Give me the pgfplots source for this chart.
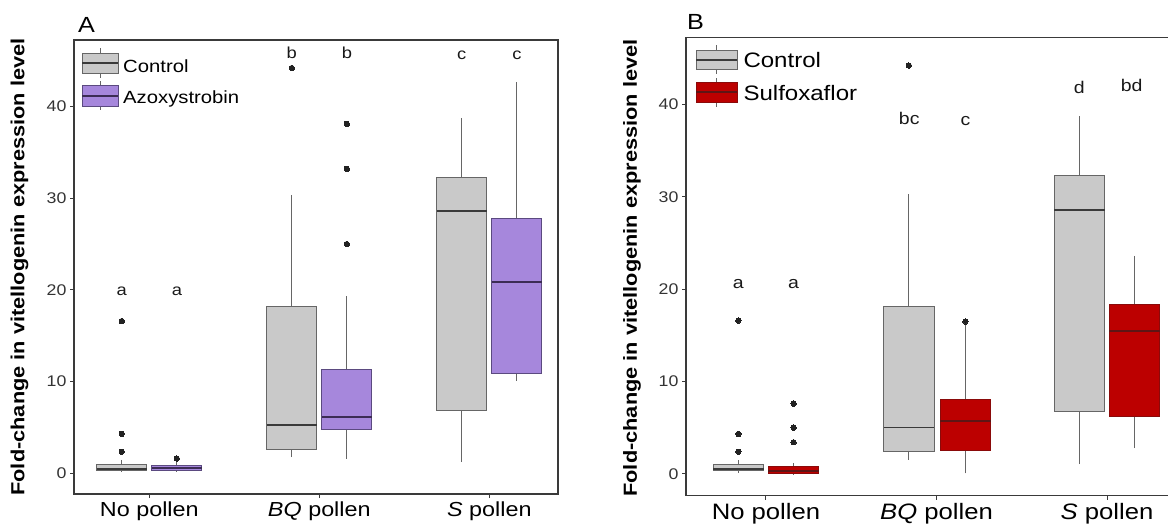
\documentclass[border=0pt]{standalone}
\usepackage{fontspec}
\setmainfont{Liberation Sans}[FakeStretch=1.15]
\usepackage{pgfplots}
\pgfplotsset{compat=1.18}
\usepgfplotslibrary{statistics}
\definecolor{ctrl}{HTML}{C9C9C9}
\definecolor{ctrlD}{HTML}{666666}
\definecolor{ctrlM}{HTML}{3A3A3A}
\definecolor{azo}{HTML}{A687DC}
\definecolor{azoD}{HTML}{5B4A80}
\definecolor{azoM}{HTML}{3C2C55}
\definecolor{sul}{HTML}{BC0000}
\definecolor{sulD}{HTML}{8A0A0A}
\definecolor{sulM}{HTML}{5E1515}
\definecolor{spine}{HTML}{3A3A3A}
\definecolor{outl}{HTML}{222222}
\pgfplotsset{
  boxplot/draw direction=y,
  bx/.style n args={3}{draw=#2, fill=#1, line width=0.8bp,
    mark=*, mark size=2.7bp, mark options={draw=outl, fill=outl, line width=0pt},
    boxplot/every median/.style={draw=#3, line width=1.8bp},
    boxplot/every whisker/.style={draw=ctrlD, line width=0.8bp},
    boxplot/every box/.style={draw=#2, fill=#1, line width=0.8bp}},
  panel/.style={scale only axis,
    xtick={1,2,3},
    xticklabels={No pollen, \textit{BQ} pollen, \textit{S} pollen},
    ytick={0,10,20,30,40},
    /pgf/number format/assume math mode=true,
    axis line style={spine, line width=1.3bp},
    tick style={spine, line width=1bp},
    tick align=outside, major tick length=4bp,
    xtick pos=bottom, ytick pos=left,
    yticklabel style={font=\fontsize{15.5}{16}\selectfont, text=black!80},
    clip=false}
}
\begin{document}
\begin{tikzpicture}
% ---------------- Panel A ----------------
\begin{axis}[panel, at={(74bp,-494bp)}, anchor=south west,
  width=484bp, height=454bp,
  xmin=0.557, xmax=3.404, ymin=-2.26, ymax=47.25,
  xticklabel style={font=\fontsize{20.4}{22}\selectfont}]
\addplot[bx={ctrl}{ctrlD}{ctrlM}, boxplot prepared={draw direction=y, draw position=0.838, lower whisker=0.1, lower quartile=0.3, median=0.5, upper quartile=1.0, upper whisker=1.5, box extend=0.294, whisker extend=0}]
  table[row sep=\\, y index=0] {y\\16.6\\4.3\\2.35\\};
\addplot[bx={azo}{azoD}{azoM}, boxplot prepared={draw direction=y, draw position=1.162, lower whisker=0.15, lower quartile=0.35, median=0.6, upper quartile=0.85, upper whisker=1.2, box extend=0.294, whisker extend=0}]
  table[row sep=\\, y index=0] {y\\1.6\\};
\addplot[bx={ctrl}{ctrlD}{ctrlM}, boxplot prepared={draw direction=y, draw position=1.838, lower whisker=1.74, lower quartile=2.57, median=5.23, upper quartile=18.25, upper whisker=30.35, box extend=0.294, whisker extend=0}]
  table[row sep=\\, y index=0] {y\\44.2\\};
\addplot[bx={azo}{azoD}{azoM}, boxplot prepared={draw direction=y, draw position=2.162, lower whisker=1.6, lower quartile=4.76, median=6.17, upper quartile=11.34, upper whisker=19.33, box extend=0.294, whisker extend=0}]
  table[row sep=\\, y index=0] {y\\38.1\\33.2\\25.0\\};
\addplot[bx={ctrl}{ctrlD}{ctrlM}, boxplot prepared={draw direction=y, draw position=2.838, lower whisker=1.23, lower quartile=6.9, median=28.64, upper quartile=32.28, upper whisker=38.75, box extend=0.294, whisker extend=0}]
  coordinates {};
\addplot[bx={azo}{azoD}{azoM}, boxplot prepared={draw direction=y, draw position=3.162, lower whisker=10.07, lower quartile=10.86, median=20.83, upper quartile=27.77, upper whisker=42.67, box extend=0.294, whisker extend=0}]
  coordinates {};
\begin{scope}[every node/.style={font=\fontsize{16}{17}\selectfont, text=black!90}]
\node at (axis cs:0.838,19.8) {a};
\node at (axis cs:1.162,19.8) {a};
\node at (axis cs:1.838,45.8) {b};
\node at (axis cs:2.162,45.8) {b};
\node at (axis cs:2.838,45.6) {c};
\node at (axis cs:3.162,45.6) {c};
\end{scope}
\end{axis}
% ---------------- Panel B ----------------
\begin{axis}[panel, at={(686bp,-495.7bp)}, anchor=south west,
  width=489.9bp, height=458.4bp,
  xmin=0.531, xmax=3.404, ymin=-2.35, ymax=47.26,
  xticklabel style={font=\fontsize{22.4}{24}\selectfont}]
\addplot[bx={ctrl}{ctrlD}{ctrlM}, boxplot prepared={draw direction=y, draw position=0.838, lower whisker=0.1, lower quartile=0.36, median=0.5, upper quartile=1.05, upper whisker=1.5, box extend=0.296, whisker extend=0}]
  table[row sep=\\, y index=0] {y\\16.6\\4.33\\2.41\\};
\addplot[bx={sul}{sulD}{sulM}, boxplot prepared={draw direction=y, draw position=1.162, lower whisker=0.0, lower quartile=0.05, median=0.3, upper quartile=0.79, upper whisker=1.15, box extend=0.296, whisker extend=0}]
  table[row sep=\\, y index=0] {y\\7.61\\5.01\\3.43\\};
\addplot[bx={ctrl}{ctrlD}{ctrlM}, boxplot prepared={draw direction=y, draw position=1.838, lower whisker=1.52, lower quartile=2.41, median=5.04, upper quartile=18.18, upper whisker=30.3, box extend=0.296, whisker extend=0}]
  table[row sep=\\, y index=0] {y\\44.2\\};
\addplot[bx={sul}{sulD}{sulM}, boxplot prepared={draw direction=y, draw position=2.17, lower whisker=0.07, lower quartile=2.6, median=5.72, upper quartile=8.12, upper whisker=16.2, box extend=0.296, whisker extend=0}]
  table[row sep=\\, y index=0] {y\\16.5\\};
\addplot[bx={ctrl}{ctrlD}{ctrlM}, boxplot prepared={draw direction=y, draw position=2.838, lower whisker=1.05, lower quartile=6.79, median=28.6, upper quartile=32.3, upper whisker=38.7, box extend=0.296, whisker extend=0}]
  coordinates {};
\addplot[bx={sul}{sulD}{sulM}, boxplot prepared={draw direction=y, draw position=3.162, lower whisker=2.8, lower quartile=6.2, median=15.5, upper quartile=18.37, upper whisker=23.6, box extend=0.296, whisker extend=0}]
  coordinates {};
\begin{scope}[every node/.style={font=\fontsize{17}{18}\selectfont, text=black!90}]
\node at (axis cs:0.838,20.6) {a};
\node at (axis cs:1.162,20.6) {a};
\node at (axis cs:1.84,38.5) {bc};
\node at (axis cs:2.17,38.2) {c};
\node at (axis cs:2.838,41.85) {d};
\node at (axis cs:3.145,42.0) {bd};
\end{scope}
\end{axis}
% ---------------- labels and legends ----------------
\begin{scope}[x=1bp, y=1bp]
\node[rotate=90, font=\bfseries\fontsize{19}{20}\selectfont] at (19.5,-267) {Fold-change in vitellogenin expression level};
\node[rotate=90, font=\bfseries\fontsize{19}{20}\selectfont] at (632,-268) {Fold-change in vitellogenin expression level};
\node[anchor=base west, inner sep=0, font=\fontsize{22}{24}\selectfont] at (78,-32) {A};
\node[anchor=base west, inner sep=0, font=\fontsize{22}{24}\selectfont] at (687,-29) {B};
% legend A
\draw[ctrlD, line width=0.8] (100,-48) -- (100,-53) (100,-73) -- (100,-78);
\draw[ctrlD, line width=0.8] (100,-81) -- (100,-85.7) (100,-106) -- (100,-110);
\filldraw[fill=ctrl, draw=ctrlD, line width=0.8] (82,-53) rectangle (118,-73);
\draw[ctrlM, line width=1.8] (82,-63.3) -- (118,-63.3);
\filldraw[fill=azo, draw=azoD, line width=0.8] (82,-85.7) rectangle (118,-106);
\draw[azoM, line width=1.8] (82,-96.3) -- (118,-96.3);
\node[anchor=base west, inner sep=0, font=\fontsize{17.7}{19}\selectfont] at (123,-72.5) {Control};
\node[anchor=base west, inner sep=0, font=\fontsize{17.7}{19}\selectfont] at (123,-103.5) {Azoxystrobin};
% legend B
\draw[ctrlD, line width=0.8] (716.7,-45) -- (716.7,-50) (716.7,-69.3) -- (716.7,-74);
\draw[ctrlD, line width=0.8] (716.7,-78) -- (716.7,-82.7) (716.7,-102) -- (716.7,-107);
\filldraw[fill=ctrl, draw=ctrlD, line width=0.8] (696,-50) rectangle (737.3,-69.3);
\draw[ctrlM, line width=1.8] (696,-60) -- (737.3,-60);
\filldraw[fill=sul, draw=sulD, line width=0.8] (696,-82.7) rectangle (737.3,-102);
\draw[sulM, line width=1.8] (696,-92) -- (737.3,-92);
\node[anchor=base west, inner sep=0, font=\fontsize{21}{23}\selectfont] at (743.3,-67.7) {Control};
\node[anchor=base west, inner sep=0, font=\fontsize{21}{23}\selectfont] at (743.3,-100) {Sulfoxaflor};
\end{scope}
\pgfresetboundingbox
\path[use as bounding box] (0,0) rectangle (1168bp,-524bp);
\end{tikzpicture}
\end{document}
